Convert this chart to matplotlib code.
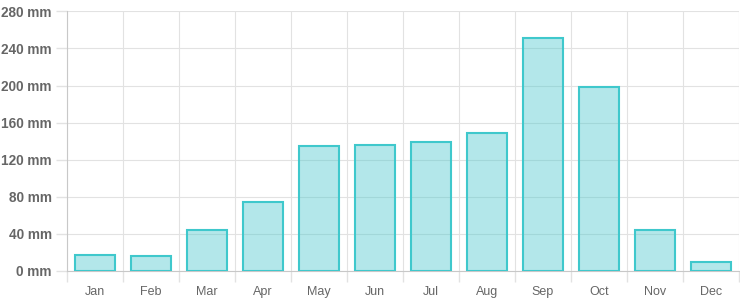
import numpy as np
import matplotlib
matplotlib.use("Agg")
import matplotlib.pyplot as plt

# monthly rainfall (mm)
months = ["Jan", "Feb", "Mar", "Apr", "May", "Jun",
          "Jul", "Aug", "Sep", "Oct", "Nov", "Dec"]
rain = [17, 16, 44, 74, 135, 136, 139, 149, 251, 198, 44, 10]
y_ticks = [0, 40, 80, 120, 160, 200, 240, 280]

fill = (75/255, 200/255, 205/255, 0.42)
edge = "#3fc8cc"
grid_c = "#e2e2e2"
text_c = "#666666"

plt.rcParams["font.family"] = ["Liberation Sans", "DejaVu Sans"]

fig = plt.figure(figsize=(7.4, 3.0), dpi=100)
ax = fig.add_axes([67/740, 1 - 271/300, 672/740, 259.7/300])

x = np.arange(len(months))
ax.bar(x, rain, width=0.7, color=fill, edgecolor=edge, linewidth=1.5, zorder=3)

ax.set_xlim(-0.5, len(months) - 0.5)
ax.set_ylim(0, 280)

# vertical grid lines sit between categories
ax.set_xticks(np.arange(-0.5, len(months)), minor=False)
ax.set_xticklabels([])
ax.set_xticks(x, minor=True)
ax.set_xticklabels(months, minor=True)
ax.tick_params(axis="x", which="major", length=8, color=grid_c, width=1)
ax.tick_params(axis="x", which="minor", length=0, pad=11, labelsize=9, labelcolor=text_c)
ax.grid(axis="x", which="major", color=grid_c, linewidth=0.8, zorder=0)

ax.set_yticks(y_ticks)
ax.set_yticklabels([f"{v} mm" for v in y_ticks], fontweight="bold")
ax.tick_params(axis="y", length=8, color=grid_c, width=1, pad=3, labelsize=9.8, labelcolor=text_c)
ax.grid(axis="y", color=grid_c, linewidth=0.8, zorder=0)

for s in ["top", "right"]:
    ax.spines[s].set_visible(False)
ax.spines["left"].set_color("#c8c8c8")
ax.spines["bottom"].set_color("#c8c8c8")

fig.savefig("out.png", dpi=100)
